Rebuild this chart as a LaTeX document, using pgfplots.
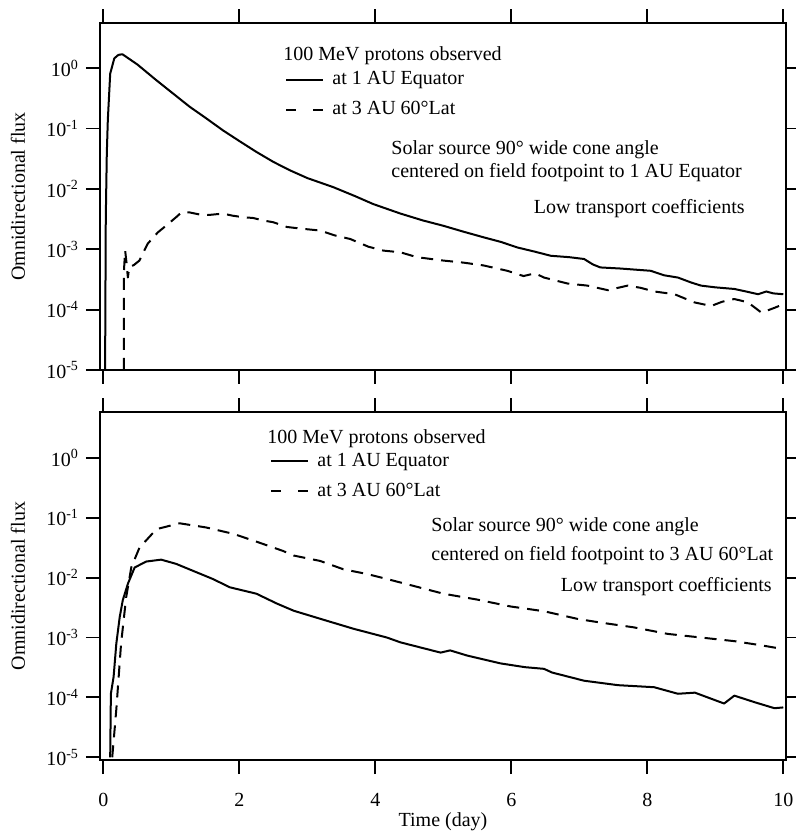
\documentclass[border=0pt]{standalone}
\usepackage{fontspec}
\setmainfont{Liberation Serif}
\usepackage{pgfplots}
\pgfplotsset{compat=1.18}
\begin{document}
\begin{tikzpicture}
% ---------- top panel ----------
\begin{axis}[name=top, at={(0,195pt)}, anchor=south west,
  scale only axis, width=343pt, height=173.5pt,
  ymode=log, xmin=-0.05, xmax=10.04, ymin=1e-5, ymax=5.6,
  axis line style={line width=0.9pt},
  tick align=outside, major tick length=7pt,
  tick style={line width=0.9pt, black},
  xtick={0,2,4,6,8,10},
  ytick={1e-5,1e-4,1e-3,1e-2,1e-1,1},
  yticklabels={10\textsuperscript{-5},10\textsuperscript{-4},10\textsuperscript{-3},10\textsuperscript{-2},10\textsuperscript{-1},10\textsuperscript{0}},
  yminorticks=false, xminorticks=false,
  xtick pos=both, ytick pos=both,
  xticklabel pos=bottom, yticklabel pos=left,
  xticklabels={,,,,,},
  ylabel={Omnidirectional flux},
  ylabel style={at={(axis description cs:-0.1195,0.5)}, anchor=center},
  legend cell align=left,
  legend image code/.code={\draw[#1] (0pt,0pt) -- (18.5pt,0pt);},
  legend style={draw=none, fill=none, inner sep=0pt, row sep=4pt, column sep=3pt,
    nodes={inner sep=1pt, text height=7pt, text depth=2pt},
    at={(axis description cs:0.2697,0.7931)}, anchor=west}]
\addplot[black, line width=1pt, line join=round] coordinates {
(0.025,1e-5) (0.035,3.2e-3) (0.05,0.038) (0.065,0.138) (0.1,0.81) (0.16,1.45)
(0.22,1.66) (0.28,1.7) (0.5,1.15) (0.78,0.63) (1.0,0.40) (1.27,0.229) (1.5,0.151)
(1.76,0.093) (2.0,0.062) (2.25,0.041) (2.5,0.028) (2.74,0.0204) (3.0,0.0151)
(3.38,0.0107) (3.7,0.0076) (3.97,0.0056) (4.37,0.0039) (4.7,0.0030) (5.0,0.00245)
(5.3,0.00195) (5.59,0.00158) (5.85,0.00132) (6.09,0.00107) (6.35,0.00091)
(6.58,0.00078) (6.85,0.00074) (7.07,0.00069) (7.2,0.00056) (7.31,0.0005)
(7.6,0.00048) (8.05,0.00044) (8.25,0.00037) (8.45,0.00034) (8.65,0.00028)
(8.79,0.00025) (9.0,0.000234) (9.28,0.00022) (9.45,0.0002) (9.63,0.00018)
(9.75,0.0002) (9.85,0.000186) (10.0,0.00018)
};
\addlegendentry{at 1 AU Equator}
\addplot[black, line width=1pt, dash pattern=on 6pt off 4pt, line join=round,
  legend image code/.code={\draw[black, line width=1pt, dash pattern=on 5pt off 8.5pt] (0pt,0pt) -- (18.5pt,0pt);}] coordinates {
(0.3,1e-5) (0.3,4e-4) (0.32,9.5e-4) (0.34,6e-4) (0.36,3.4e-4) (0.38,5e-4)
(0.45,5.5e-4) (0.53,6.5e-4) (0.65,1.23e-3) (0.8,1.9e-3) (0.92,2.45e-3)
(1.07,3.4e-3) (1.15,4.1e-3) (1.27,4.07e-3) (1.4,3.8e-3) (1.55,3.7e-3)
(1.76,3.9e-3) (1.9,3.6e-3) (2.05,3.4e-3) (2.2,3.3e-3) (2.35,3.0e-3)
(2.5,2.8e-3) (2.7,2.34e-3) (2.9,2.2e-3) (3.19,2.04e-3) (3.4,1.7e-3)
(3.63,1.48e-3) (3.9,1.1e-3) (4.12,9.5e-4) (4.37,8.9e-4) (4.61,7.4e-4)
(5.0,6.5e-4) (5.3,6.0e-4) (5.59,5.4e-4) (5.94,4.4e-4) (6.18,3.6e-4)
(6.35,4.0e-4) (6.48,3.4e-4) (6.83,2.7e-4) (7.12,2.5e-4) (7.42,2.1e-4)
(7.71,2.5e-4) (7.9,2.3e-4) (8.1,2.0e-4) (8.4,1.8e-4) (8.69,1.32e-4)
(8.94,1.15e-4) (9.1,1.35e-4) (9.28,1.5e-4) (9.48,1.32e-4) (9.68,8.9e-5)
(9.87,1.07e-4) (10.0,1.23e-4)
};
\addlegendentry{at 3 AU 60°Lat}
\end{axis}
\node[anchor=west, inner sep=0pt] at ([shift={(91.5pt,-16.2pt)}]top.north west) {100 MeV protons observed};
\node[anchor=west, inner sep=0pt] at ([shift={(145.5pt,-63.5pt)}]top.north west) {Solar source 90° wide cone angle};
\node[anchor=west, inner sep=0pt] at ([shift={(145.5pt,-75pt)}]top.north west) {centered on field footpoint to 1 AU Equator};
\node[anchor=east, inner sep=0pt] at ([shift={(322.5pt,-93pt)}]top.north west) {Low transport coefficients};
% ---------- bottom panel ----------
\begin{axis}[name=bot, at={(0,0)}, anchor=south west,
  scale only axis, width=343pt, height=174pt,
  ymode=log, xmin=-0.05, xmax=10.04, ymin=9e-6, ymax=5.85,
  axis line style={line width=0.9pt},
  tick align=outside, major tick length=7pt,
  tick style={line width=0.9pt, black},
  xtick={0,2,4,6,8,10},
  ytick={1e-5,1e-4,1e-3,1e-2,1e-1,1},
  yticklabels={10\textsuperscript{-5},10\textsuperscript{-4},10\textsuperscript{-3},10\textsuperscript{-2},10\textsuperscript{-1},10\textsuperscript{0}},
  yminorticks=false, xminorticks=false,
  xtick pos=both, ytick pos=both,
  xticklabel pos=bottom, yticklabel pos=left,
  xticklabels={0,2,4,6,8,10},
  xticklabel style={yshift=-6pt},
  ylabel={Omnidirectional flux},
  ylabel style={at={(axis description cs:-0.1195,0.5)}, anchor=center},
  xlabel={Time (day)},
  xlabel style={at={(axis description cs:0.5,0)}, anchor=center, yshift=-31pt},
  legend cell align=left,
  legend image code/.code={\draw[#1] (0pt,0pt) -- (18.5pt,0pt);},
  legend style={draw=none, fill=none, inner sep=0pt, row sep=4pt, column sep=3pt,
    nodes={inner sep=1pt, text height=7pt, text depth=2pt},
    at={(axis description cs:0.2478,0.8161)}, anchor=west}]
\addplot[black, line width=1pt, line join=round] coordinates {
(0.1,1e-5) (0.11,1.15e-4) (0.15,2.2e-4) (0.19,7.9e-4) (0.24,2.2e-3)
(0.285,4.2e-3) (0.36,7.9e-3) (0.46,0.0148) (0.63,0.0186) (0.85,0.020)
(1.07,0.017) (1.37,0.0123) (1.61,0.0095) (1.86,0.0069) (2.25,0.0054)
(2.55,0.0037) (2.8,0.0028) (3.29,0.0019) (3.68,0.0014) (4.17,0.0010)
(4.37,8.3e-4) (4.96,5.6e-4) (5.1,6.1e-4) (5.35,5.0e-4) (5.84,3.7e-4)
(6.2,3.2e-4) (6.48,3.0e-4) (6.6,2.6e-4) (7.07,1.9e-4) (7.57,1.6e-4)
(8.1,1.48e-4) (8.45,1.15e-4) (8.7,1.2e-4) (8.94,9.5e-5) (9.13,7.9e-5)
(9.28,1.07e-4) (9.58,8.3e-5) (9.87,6.6e-5) (10.0,6.8e-5)
};
\addlegendentry{at 1 AU Equator}
\addplot[black, line width=1pt, dash pattern=on 6pt off 4pt, line join=round,
  legend image code/.code={\draw[black, line width=1pt, dash pattern=on 5pt off 8.5pt] (0pt,0pt) -- (18.5pt,0pt);}] coordinates {
(0.13,1e-5) (0.19,6.3e-5) (0.26,7.9e-4) (0.335,4.7e-3) (0.41,0.0148)
(0.53,0.0316) (0.78,0.0646) (1.12,0.081) (1.51,0.069) (1.91,0.054)
(2.25,0.040) (2.64,0.028) (2.8,0.0234) (3.19,0.019) (3.53,0.0138)
(3.88,0.0115) (4.17,0.0095) (4.37,0.0083) (5.0,0.0054) (5.5,0.0043)
(5.99,0.0033) (6.48,0.00275) (6.98,0.00204) (7.31,0.00178) (7.8,0.00148)
(8.3,0.00115) (8.79,0.001) (9.28,8.7e-4) (9.68,7.4e-4) (9.97,6.5e-4)
};
\addlegendentry{at 3 AU 60°Lat}
\end{axis}
\node[anchor=west, inner sep=0pt] at ([shift={(83.5pt,-13.2pt)}]bot.north west) {100 MeV protons observed};
\node[anchor=west, inner sep=0pt] at ([shift={(165.5pt,-57.2pt)}]bot.north west) {Solar source 90° wide cone angle};
\node[anchor=west, inner sep=0pt] at ([shift={(165.5pt,-71.7pt)}]bot.north west) {centered on field footpoint to 3 AU 60°Lat};
\node[anchor=east, inner sep=0pt] at ([shift={(336pt,-87.2pt)}]bot.north west) {Low transport coefficients};
\pgfresetboundingbox
\useasboundingbox (-50pt,-37.5pt) rectangle (348pt,380pt);
\end{tikzpicture}
\end{document}
